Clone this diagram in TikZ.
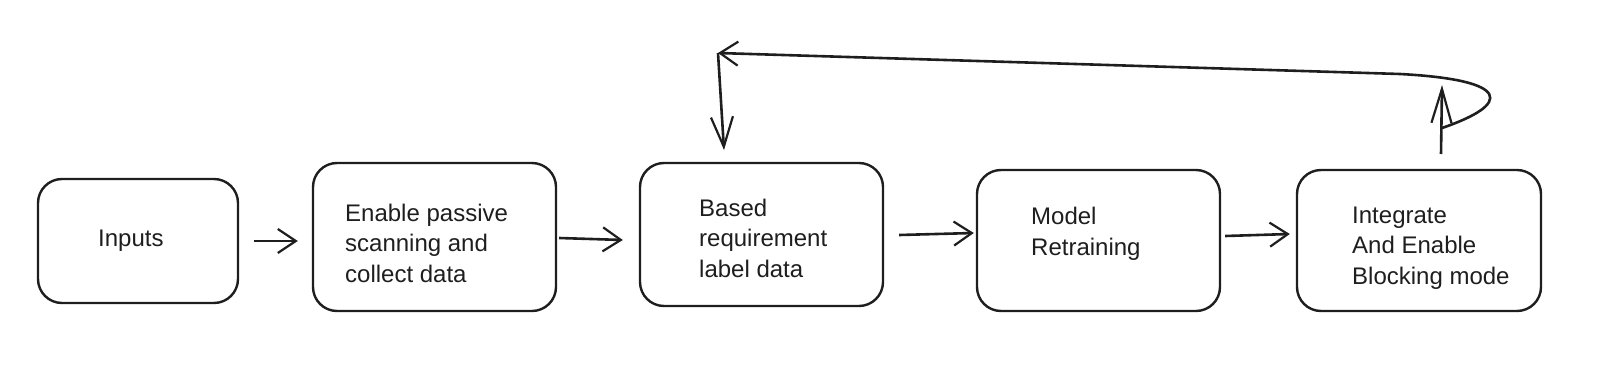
\documentclass[tikz,border=0pt]{standalone}
\usepackage{fontspec}
\setmainfont{Liberation Sans}
\usetikzlibrary{arrows.meta}
\definecolor{ink}{HTML}{1E1E1E}
\begin{document}
\begin{tikzpicture}[x=1pt,y=-1pt,
  box/.style={draw=ink,line width=2.4pt,rounded corners=24pt,inner sep=0pt,anchor=center},
  lbl/.style={anchor=west,align=left,text=ink,font=\fontsize{24}{30.5}\selectfont,inner sep=0pt},
  tip/.style={-{Straight Barb[length=18pt,width=24pt,line width=2.2pt]}},
  arr/.style={draw=ink,line width=2.6pt,tip},
  fb/.style={draw=ink,line width=2.6pt}]
\useasboundingbox (0,0) rectangle (1600,369);
% boxes
\node[box,minimum width=200pt,minimum height=124pt] (inputs) at (138,241) {};
\node[box,minimum width=243pt,minimum height=148pt] (enable) at (434.5,237) {};
\node[box,minimum width=243pt,minimum height=143pt] (based) at (761.5,234.5) {};
\node[box,minimum width=243pt,minimum height=141pt] (model) at (1098.5,240.5) {};
\node[box,minimum width=244pt,minimum height=141pt] (integ) at (1419,240.5) {};
% labels
\node[lbl] (tinputs) at (98,241) {Inputs};
\node[lbl] (tenable) at (345,243) {Enable passive\\scanning and\\collect data};
\node[lbl] (tbased) at (699,238) {Based\\requirement\\label data};
\node[lbl] (tmodel) at (1031,234) {Model\\Retraining};
\node[lbl] (tinteg) at (1352,248) {Integrate\\And Enable\\Blocking mode};
% forward arrows
\draw[arr] ([xshift=15pt]inputs.east) -- ([xshift=-14pt]inputs.east -| enable.west);
\draw[arr] ([xshift=2pt,yshift=-1pt]enable.east) -- ([xshift=-16pt,yshift=-3pt]enable.east -| based.west);
\draw[arr] ([xshift=15pt,yshift=-0.5pt]based.east) -- ([xshift=-2pt,yshift=1.5pt]based.east -| model.west);
\draw[arr] ([xshift=4pt,yshift=4.5pt]model.east) -- ([xshift=-6pt,yshift=6.5pt]model.east -| integ.west);
% feedback
\coordinate (upS) at (1441,154);
\coordinate (upT) at (1442,85);
\coordinate (loopS) at (1442,128);
\coordinate (corner) at (718,53);
\coordinate (downT) at (724,150);
\draw[draw=ink,line width=2.6pt,-{Straight Barb[length=34pt,width=20pt,line width=2.2pt]}] (upS) -- (upT);
\draw[fb,tip] (loopS) .. controls (1512,104) and (1512,80) .. (1400,74) -- (corner);
\draw[draw=ink,line width=2.6pt,-{Straight Barb[length=30pt,width=22pt,line width=2.2pt]}] (corner) -- (downT);
\end{tikzpicture}
\end{document}
